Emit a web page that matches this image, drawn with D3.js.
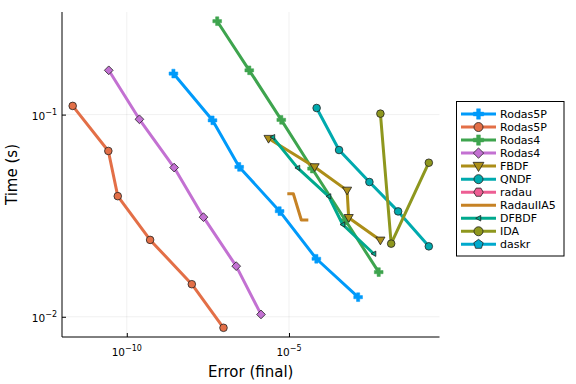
<!DOCTYPE html>
<html>
<head>
<meta charset="utf-8">
<script src="https://cdn.jsdelivr.net/npm/d3@7"></script>
<style>
  body { margin: 0; background: #fff; }
  text { font-family: "DejaVu Sans", sans-serif; fill: #000; }
</style>
</head>
<body>
<div id="chart"></div>
<script>
// solver names, in legend order
const names = ["Rodas5P", "Rodas5P", "Rodas4", "Rodas4", "FBDF", "QNDF", "radau", "RadauIIA5", "DFBDF", "IDA", "daskr"];
const colors = ["#009afa", "#e36f47", "#3ea44e", "#c371d2", "#ac8e18", "#00aaae", "#ed5e93", "#c68225", "#00a98d", "#8e971e", "#00a9cd"];
const markers = ["cross", "circle", "cross", "diamond", "dtriangle", "circle", "hexagon", "none", "ltriangle", "circle", "pentagon"];

// final error per run
const errors = [
    [2.74e-9, 4.39e-8, 2.92e-7, 5.13e-6, 6.97e-5, 1.35e-3],
    [2.15e-12, 2.70e-11, 5.27e-11, 5.24e-10, 1.01e-8, 9.57e-8],
    [6.12e-8, 5.96e-7, 5.78e-6, 5.13e-5, 5.47e-4, 5.82e-3],
    [2.78e-11, 2.45e-10, 2.88e-9, 2.31e-8, 2.36e-7, 1.37e-6],
    [2.34e-6, 6.17e-5, 6.17e-4, 6.92e-4, 6.57e-3],
    [7.11e-5, 3.49e-4, 3.01e-3, 2.31e-2, 0.204],
    [],
    [8.87e-6, 1.36e-5, 2.40e-5, 3.94e-5],
    [3.12e-6, 1.84e-5, 1.67e-4, 4.51e-4, 4.08e-3],
    [6.57e-3, 1.41e-2, 0.204],
    []
];
// run time in seconds
const times = [
    [0.1596, 0.0937, 0.0551, 0.0333, 0.01936, 0.0125],
    [0.1104, 0.0661, 0.0395, 0.0240, 0.01449, 0.00882],
    [0.2897, 0.1656, 0.0942, 0.0541, 0.0300, 0.01663],
    [0.1656, 0.0948, 0.0547, 0.0311, 0.0178, 0.01027],
    [0.0761, 0.0551, 0.0422, 0.0309, 0.0239],
    [0.1078, 0.0668, 0.0464, 0.0332, 0.0223],
    [],
    [0.0406, 0.0406, 0.0301, 0.0301],
    [0.0774, 0.0545, 0.0394, 0.0286, 0.0205],
    [0.1011, 0.0230, 0.0578],
    []
];

const xTicks = [1e-10, 1e-5];
const yTicks = [1e-1, 1e-2];
const xTickExp = ["−10", "−5"];
const yTickExp = ["−1", "−2"];

const width = 576, height = 384;
const plotL = 62, plotR = 439.5, plotT = 12, plotB = 337;

// log-space limits widened by 3% like Plots.jl
function paddedDomain(arrs) {
    const all = arrs.flat().map(Math.log10);
    const lo = d3.min(all), hi = d3.max(all), pad = (hi - lo) * 0.03;
    return [Math.pow(10, lo - pad), Math.pow(10, hi + pad)];
}

const x = d3.scaleLog().domain(paddedDomain(errors)).range([plotL, plotR]);
const y = d3.scaleLog().domain(paddedDomain(times)).range([plotB, plotT]);

const svg = d3.select("#chart").append("svg")
    .attr("width", width)
    .attr("height", height);

// grid
svg.append("g").selectAll("line").data(xTicks).join("line")
    .attr("x1", d => x(d)).attr("x2", d => x(d))
    .attr("y1", plotT).attr("y2", plotB)
    .attr("stroke", "#000").attr("stroke-opacity", 0.1).attr("stroke-width", 0.6);
svg.append("g").selectAll("line").data(yTicks).join("line")
    .attr("x1", plotL).attr("x2", plotR)
    .attr("y1", d => y(d)).attr("y2", d => y(d))
    .attr("stroke", "#000").attr("stroke-opacity", 0.1).attr("stroke-width", 0.6);

// axes
const xAxis = svg.append("g")
    .attr("transform", `translate(0,${plotB})`)
    .call(d3.axisBottom(x).tickValues(xTicks).tickSize(-4).tickFormat(""));
const yAxis = svg.append("g")
    .attr("transform", `translate(${plotL},0)`)
    .call(d3.axisLeft(y).tickValues(yTicks).tickSize(-4).tickFormat(""));
xAxis.select(".domain").attr("d", `M${plotL},0H${plotR}`);
yAxis.select(".domain").attr("d", `M0,${plotB}V${plotT}`);
[xAxis, yAxis].forEach(a => {
    a.select(".domain").attr("stroke", "#000").attr("stroke-width", 1);
    a.selectAll(".tick line").attr("stroke", "#000").attr("stroke-width", 1);
});

// tick labels with superscript exponents
xTicks.forEach((t, i) => {
    const tx = svg.append("text")
        .attr("x", x(t)).attr("y", plotB + 19)
        .attr("text-anchor", "middle")
        .style("font-size", "10.5px");
    tx.append("tspan").text("10");
    tx.append("tspan").attr("dy", -5).style("font-size", "8px").text(xTickExp[i]);
});
yTicks.forEach((t, i) => {
    const ty = svg.append("text")
        .attr("x", plotL - 5).attr("y", y(t) + 5)
        .attr("text-anchor", "end")
        .style("font-size", "10.5px");
    ty.append("tspan").text("10");
    ty.append("tspan").attr("dy", -5).style("font-size", "8px").text(yTickExp[i]);
});

// axis titles
svg.append("text")
    .attr("x", (plotL + plotR) / 2).attr("y", 377)
    .attr("text-anchor", "middle")
    .style("font-size", "15px")
    .text("Error (final)");
svg.append("text")
    .attr("transform", `translate(17,${(plotT + plotB) / 2}) rotate(-90)`)
    .attr("text-anchor", "middle")
    .style("font-size", "15px")
    .text("Time (s)");

// marker shapes
function markerPath(kind, s) {
    const poly = pts => "M" + pts.map(p => p.join(",")).join("L") + "Z";
    switch (kind) {
        case "circle":
            return `M${s},0A${s},${s} 0 1,1 ${-s},0A${s},${s} 0 1,1 ${s},0Z`;
        case "cross": {
            const a = s * 1.15, b = s * 0.42;
            return poly([[-b, -a], [b, -a], [b, -b], [a, -b], [a, b], [b, b], [b, a], [-b, a], [-b, b], [-a, b], [-a, -b], [-b, -b]]);
        }
        case "diamond": {
            const a = s * 1.15;
            return poly([[0, -a], [a, 0], [0, a], [-a, 0]]);
        }
        case "dtriangle": {
            const a = s * 1.2;
            return poly([[-a, -a * 0.7], [a, -a * 0.7], [0, a * 1.0]]);
        }
        case "ltriangle": {
            const a = s * 0.7;
            return poly([[-a, 0], [a * 0.8, -a], [a * 0.8, a]]);
        }
        case "hexagon":
            return poly(d3.range(6).map(k => [s * 1.05 * Math.cos(k * Math.PI / 3), s * 1.05 * Math.sin(k * Math.PI / 3)]));
        case "pentagon":
            return poly(d3.range(5).map(k => [s * 1.1 * Math.sin(k * 2 * Math.PI / 5), -s * 1.1 * Math.cos(k * 2 * Math.PI / 5)]));
    }
    return "";
}

const line = d3.line().x(d => x(d[0])).y(d => y(d[1]));
const plot = svg.append("g");

names.forEach((name, i) => {
    const pts = errors[i].map((e, k) => [e, times[i][k]]);
    if (!pts.length) return;
    const g = plot.append("g");
    g.append("path")
        .datum(pts)
        .attr("d", line)
        .attr("fill", "none")
        .attr("stroke", colors[i])
        .attr("stroke-width", 3)
        .attr("stroke-linejoin", "round");
    if (markers[i] === "none") return;
    g.selectAll("path.m").data(pts).join("path")
        .attr("class", "m")
        .attr("transform", d => `translate(${x(d[0])},${y(d[1])})`)
        .attr("d", markerPath(markers[i], 3.8))
        .attr("fill", colors[i])
        .attr("stroke", markers[i] === "cross" ? colors[i] : "#222")
        .attr("stroke-width", markers[i] === "cross" ? 0.5 : 0.8);
});

// legend
const lg = svg.append("g");
lg.append("rect")
    .attr("x", 456.5).attr("y", 101.5)
    .attr("width", 107.5).attr("height", 154.5)
    .attr("fill", "#fff").attr("stroke", "#000").attr("stroke-width", 1);
names.forEach((name, i) => {
    const ly = 114 + i * 13.03;
    lg.append("line")
        .attr("x1", 461).attr("x2", 496)
        .attr("y1", ly).attr("y2", ly)
        .attr("stroke", colors[i]).attr("stroke-width", 3);
    if (markers[i] !== "none") {
        lg.append("path")
            .attr("transform", `translate(478.5,${ly})`)
            .attr("d", markerPath(markers[i], markers[i] === "ltriangle" ? 4 : 4.5))
            .attr("fill", colors[i])
            .attr("stroke", markers[i] === "cross" ? colors[i] : "#222")
            .attr("stroke-width", markers[i] === "cross" ? 0.5 : 0.8);
    }
    lg.append("text")
        .attr("x", 500).attr("y", ly + 4)
        .style("font-size", "11px")
        .text(name);
});
</script>
</body>
</html>
